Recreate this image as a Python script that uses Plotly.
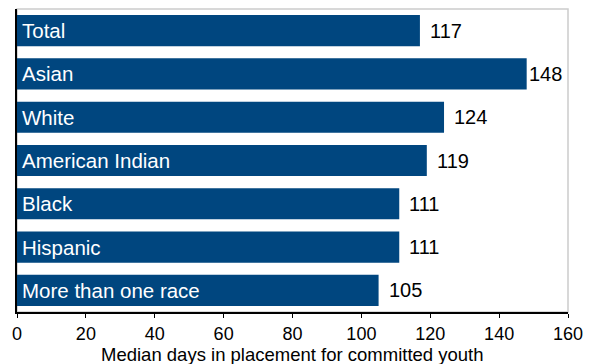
import plotly.graph_objects as go

categories = ["Total", "Asian", "White", "American Indian", "Black", "Hispanic", "More than one race"]
values = [117, 148, 124, 119, 111, 111, 105]
tick_vals = [0, 20, 40, 60, 80, 100, 120, 140, 160]
x_title = "Median days in placement for committed youth"

bar_color = "#00467f"
font_family = "Liberation Sans, Arial, Helvetica, sans-serif"

fig = go.Figure()
fig.add_trace(go.Bar(
    y=categories, x=values, orientation="h",
    marker=dict(color=bar_color, line=dict(width=0)),
    hoverinfo="skip",
))

annotations = []
for c, v in zip(categories, values):
    annotations.append(dict(x=0, y=c, xref="x", yref="y", text=c, showarrow=False,
                            xanchor="left", xshift=3, yshift=0,
                            font=dict(color="white", size=20.5, family=font_family)))
    shift = 0 if v == max(values) else 8
    annotations.append(dict(x=v, y=c, xref="x", yref="y", text=str(v), showarrow=False,
                            xanchor="left", xshift=shift,
                            font=dict(color="black", size=20, family=font_family)))

# axis title as annotation below tick labels
annotations.append(dict(x=0.5, y=0, xref="paper", yref="paper", text=x_title, showarrow=False,
                        xanchor="center", yanchor="top", yshift=-30,
                        font=dict(color="black", size=18.5, family=font_family)))

fig.update_layout(
    width=596, height=364,
    margin=dict(l=17, r=28, t=9, b=52, autoexpand=False),
    paper_bgcolor="white", plot_bgcolor="white",
    bargap=0.28,
    showlegend=False,
    font=dict(family=font_family, size=18, color="black"),
    annotations=annotations,
    shapes=[dict(type="rect", xref="paper", yref="paper", x0=0, x1=1, y0=0, y1=1,
                 line=dict(color="#cccccc", width=1.5), layer="below")],
    xaxis=dict(range=[0, 160], tickvals=tick_vals, showgrid=False, zeroline=False,
               showline=True, linecolor="black", linewidth=1.5, automargin=False,
               ticks="outside", ticklen=4, tickcolor="black", ticklabelstandoff=1,
               tickfont=dict(size=18)),
    yaxis=dict(autorange="reversed", showticklabels=False, showgrid=False, zeroline=False,
               showline=True, linecolor="black", linewidth=1.5, ticks="", automargin=False),
)

fig.write_html("out.html")
